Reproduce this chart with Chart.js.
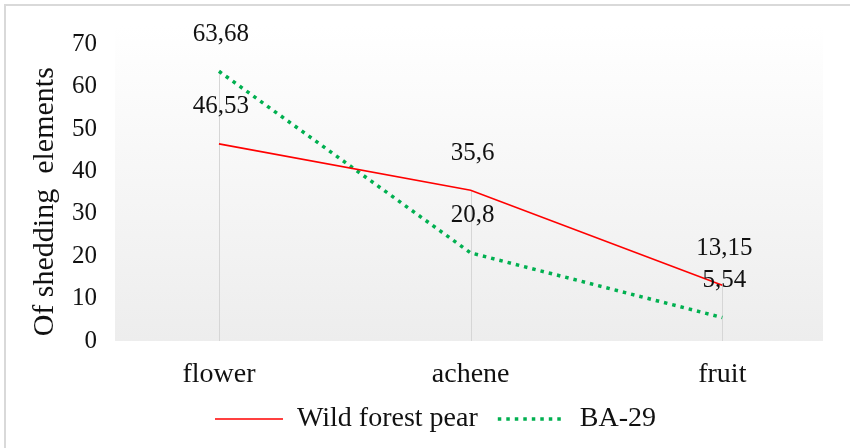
<!DOCTYPE html>
<html>
<head>
<meta charset="utf-8">
<script src="https://cdn.jsdelivr.net/npm/chart.js@4"></script>
<style>
  html, body { margin: 0; padding: 0; background: #fff; overflow: hidden; }
  #wrap { position: relative; width: 850px; height: 448px; }
  #frame { position: absolute; left: 4px; top: 4px; width: 870px; height: 470px; border: 2px solid #d9d9d9; box-sizing: border-box; }
  canvas { position: absolute; left: 0; top: 0; }
</style>
</head>
<body>
<div id="wrap">
  <div id="frame"></div>
  <canvas id="chart" width="850" height="448"></canvas>
</div>
<script>
// chart data
const categories = ['flower', 'achene', 'fruit'];
const wildPear = [46.53, 35.6, 13.15];
const ba29 = [63.68, 20.8, 5.54];
const wildLabels = ['46,53', '35,6', '13,15'];
const baLabels = ['63,68', '20,8', '5,54'];
const yTicks = [0, 10, 20, 30, 40, 50, 60, 70];

const serif = "'Liberation Serif', 'Times New Roman', serif";

// plot area gradient, like the Excel original
const plotBackground = {
  id: 'plotBackground',
  beforeDraw(chart) {
    const { ctx, chartArea: a } = chart;
    const g = ctx.createLinearGradient(0, a.top, 0, a.bottom);
    g.addColorStop(0, '#ffffff');
    g.addColorStop(1, '#ededed');
    ctx.save();
    ctx.fillStyle = g;
    ctx.fillRect(a.left, a.top, a.right - a.left, a.bottom - a.top);
    ctx.restore();
  }
};

// drop lines from the highest point of each category down to zero
const dropLines = {
  id: 'dropLines',
  beforeDatasetsDraw(chart) {
    const { ctx, scales } = chart;
    ctx.save();
    ctx.strokeStyle = '#d6d6d6';
    ctx.lineWidth = 1;
    categories.forEach((c, i) => {
      const top = Math.max(wildPear[i], ba29[i]);
      const x = Math.round(scales.x.getPixelForValue(i)) + 0.5;
      ctx.beginPath();
      ctx.moveTo(x, scales.y.getPixelForValue(top));
      ctx.lineTo(x, scales.y.getPixelForValue(0));
      ctx.stroke();
    });
    ctx.restore();
  }
};

// value labels above the points
const valueLabels = {
  id: 'valueLabels',
  afterDatasetsDraw(chart) {
    const { ctx } = chart;
    const texts = [wildLabels, baLabels];
    ctx.save();
    ctx.font = '25px ' + serif;
    ctx.fillStyle = '#111';
    ctx.textAlign = 'center';
    ctx.textBaseline = 'middle';
    chart.data.datasets.forEach((ds, d) => {
      chart.getDatasetMeta(d).data.forEach((pt, i) => {
        ctx.fillText(texts[d][i], pt.x + 2, pt.y - 37);
      });
    });
    ctx.restore();
  }
};

// the original legend sits a bit right of centre
const legendNudge = {
  id: 'legendNudge',
  afterLayout(chart) {
    chart.legend.left += 24;
    chart.legend.right += 24;
  }
};

const ctx = document.getElementById('chart');
new Chart(ctx, {
  type: 'line',
  data: {
    datasets: [
      {
        label: 'Wild forest pear',
        data: wildPear.map((v, i) => ({ x: i, y: v })),
        borderColor: '#ff0000',
        backgroundColor: '#ff0000',
        borderWidth: 1.6,
        pointRadius: 0,
        tension: 0
      },
      {
        label: 'BA-29',
        data: ba29.map((v, i) => ({ x: i, y: v })),
        borderColor: '#00b050',
        backgroundColor: '#00b050',
        borderWidth: 3.5,
        borderDash: [3.5, 5],
        pointRadius: 0,
        tension: 0
      }
    ]
  },
  options: {
    responsive: false,
    animation: false,
    layout: { padding: { top: 15, right: 27, bottom: 5, left: 0 } },
    plugins: {
      tooltip: { enabled: false },
      legend: {
        position: 'bottom',
        labels: {
          usePointStyle: true,
          pointStyle: 'line',
          pointStyleWidth: 68,
          boxHeight: 26,
          padding: 20,
          color: '#111',
          font: { family: serif, size: 28 },
          // point-style labels lose the dash, put it back from the dataset
          generateLabels: (chart) => {
            const items = Chart.defaults.plugins.legend.labels.generateLabels(chart);
            items.forEach(it => {
              const ds = chart.data.datasets[it.datasetIndex];
              it.lineDash = ds.borderDash || [];
              it.lineWidth = ds.borderWidth;
              it.strokeStyle = ds.borderColor;
            });
            return items;
          }
        }
      }
    },
    scales: {
      x: {
        type: 'linear',
        min: -0.413,
        max: 2.4,
        grid: { display: false },
        border: { display: false },
        ticks: {
          stepSize: 1,
          includeBounds: false,
          padding: 9,
          color: '#111',
          font: { family: serif, size: 28 },
          callback: (v) => categories[v] ?? ''
        },
        afterFit: (s) => { s.height = 44; }
      },
      y: {
        min: 0,
        max: 74.6,
        grid: { display: false },
        border: { display: false },
        afterBuildTicks: (s) => { s.ticks = yTicks.map(v => ({ value: v })); },
        ticks: {
          padding: 10,
          color: '#111',
          font: { family: serif, size: 25 }
        },
        title: {
          display: true,
          text: 'Of shedding  elements     ',
          color: '#111',
          font: { family: serif, size: 30 },
          padding: { top: 27, bottom: 0 }
        },
        afterFit: (s) => { s.width = 115; }
      }
    }
  },
  plugins: [plotBackground, dropLines, valueLabels, legendNudge]
});
</script>
</body>
</html>
